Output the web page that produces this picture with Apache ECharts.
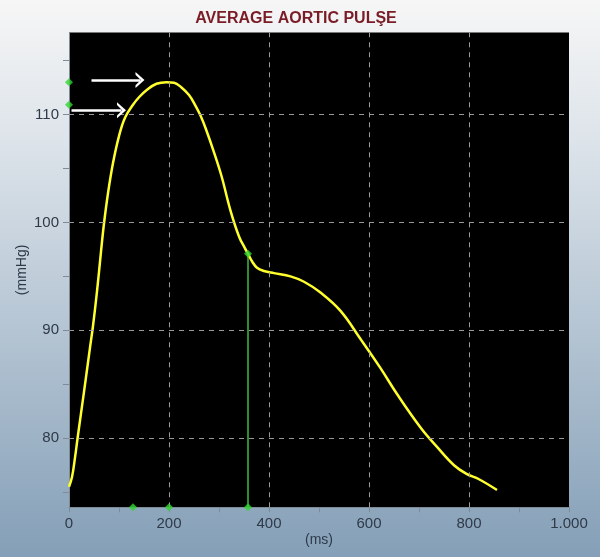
<!DOCTYPE html>
<html>
<head>
<meta charset="utf-8">
<script src="https://cdn.jsdelivr.net/npm/echarts@6/dist/echarts.min.js"></script>
<style>
html,body{margin:0;padding:0;}
#chart{width:600px;height:557px;}
</style>
</head>
<body>
<div id="chart"></div>
<script>
// ---- data ----
const timeMs = [0, 6, 12, 18, 30, 42, 48, 56, 64, 70, 78, 88, 100, 112, 128, 140, 156, 175, 195, 210, 225, 240, 252, 263, 275, 290, 305, 323, 340, 352, 358, 366, 376, 390, 410, 443, 470, 503, 543, 583, 623, 656, 703, 736, 770, 795, 820, 856];
const pressure = [75.5, 76.4, 78.2, 80.3, 84.3, 88.4, 90.4, 93.6, 97.3, 99.9, 102.7, 105.5, 108.0, 109.7, 110.9, 111.6, 112.3, 112.85, 113.0, 112.95, 112.5, 111.8, 110.9, 109.9, 108.5, 106.5, 104.3, 101.1, 98.7, 97.6, 97.1, 96.4, 95.8, 95.5, 95.3, 95.0, 94.5, 93.5, 91.8, 89.2, 86.5, 84.1, 81.0, 79.2, 77.5, 76.7, 76.2, 75.2];

const xTickValues = [0, 200, 400, 600, 800, 1000];
const yLabelValues = [80, 90, 100, 110];
const yTickValues = [75, 80, 85, 90, 95, 100, 105, 110, 115];

const timeMarkers = [128, 200, 358];          // green markers on the time axis
const pressureMarkers = [113.0, 110.9];       // green markers on the pressure axis
const dicroticPoint = [358, 97.1];            // notch marker with vertical drop line
const arrowLevels = [113.2, 110.4];           // white arrows (pressure level)
const arrowStarts = [45, 5];
const arrowEnds = [142, 105];

const Y_MIN = 73.6, Y_MAX = 117.6;

const curve = timeMs.map((t, i) => [t, pressure[i]]);
const markers = [
  ...pressureMarkers.map(v => [0, v]),
  ...timeMarkers.map(t => [t, Y_MIN]),
  dicroticPoint
];

const gridDash = {type: [5, 5], color: '#9a9a9a', width: 1};
const chevron = 'path://M0,12 L10,0 L20,12 L16.5,12 L10,5 L3.5,12 Z';

const chart = echarts.init(document.getElementById('chart'), null, {renderer: 'canvas'});
chart.setOption({
  animation: false,
  backgroundColor: {
    type: 'linear', x: 0, y: 0, x2: 0, y2: 1,
    colorStops: [
      {offset: 0, color: '#f6f6f6'},
      {offset: 0.25, color: '#dde4ea'},
      {offset: 1, color: '#849fb7'}
    ]
  },
  title: {
    text: 'AVERAGE AORTIC PULŞE',
    left: 291, top: 6, textAlign: 'center',
    textStyle: {fontFamily: 'Liberation Sans', fontWeight: 'bold', fontSize: 16, color: '#7a1c26'}
  },
  grid: {
    left: 69, right: 31, top: 32.5, bottom: 49.7,
    show: true, backgroundColor: '#000000', borderWidth: 0
  },
  xAxis: {
    type: 'value', min: 0, max: 1000, interval: 200,
    name: '(ms)', nameLocation: 'middle', nameGap: 26, nameMoveOverlap: false,
    nameTextStyle: {fontFamily: 'Liberation Sans', fontSize: 14, color: '#2f3a48'},
    axisLine: {show: true, lineStyle: {color: '#7f8c98'}},
    axisTick: {show: true, length: 5, lineStyle: {color: '#7f8c98'}},
    minorTick: {show: true, splitNumber: 2, length: 5, lineStyle: {color: '#7f8c98'}},
    axisLabel: {
      margin: 9, fontFamily: 'Liberation Sans', fontSize: 15, color: '#2f3a48',
      formatter: v => v === 1000 ? '1.000' : String(v)
    },
    splitLine: {show: false}
  },
  yAxis: {
    type: 'value', min: Y_MIN, max: Y_MAX,
    name: '(mmHg)', nameLocation: 'middle', nameGap: 40, nameRotate: 90, nameMoveOverlap: false,
    nameTextStyle: {fontFamily: 'Liberation Sans', fontSize: 14, color: '#2f3a48'},
    axisLine: {show: true, lineStyle: {color: '#7f8c98'}},
    axisTick: {show: true, length: 6, customValues: yTickValues, lineStyle: {color: '#7f8c98'}},
    axisLabel: {
      margin: 10, fontFamily: 'Liberation Sans', fontSize: 15, color: '#2f3a48',
      customValues: yLabelValues
    },
    splitLine: {show: false}
  },
  series: [
    {
      type: 'line', name: 'grid', data: [], silent: true,
      markLine: {
        silent: true, symbol: 'none', label: {show: false},
        lineStyle: gridDash, animation: false,
        data: [
          ...yLabelValues.map(v => ({yAxis: v})),
          ...xTickValues.slice(1, -1).map(v => ({xAxis: v}))
        ]
      }
    },
    {
      type: 'line', name: 'drop', data: [dicroticPoint, [dicroticPoint[0], Y_MIN]],
      symbol: 'none', lineStyle: {color: '#3bb03b', width: 1.6}, z: 3
    },
    {
      type: 'line', name: 'pulse', data: curve, smooth: 0.4,
      symbol: 'none', lineStyle: {color: '#ffff2e', width: 2.5}, z: 4
    },
    {
      type: 'line', name: 'arrows', data: [], silent: true, z: 5,
      markLine: {
        silent: true, symbol: ['none', chevron], symbolSize: [16, 9],
        label: {show: false}, animation: false,
        lineStyle: {type: 'solid', color: '#ffffff', width: 2.5},
        itemStyle: {color: '#ffffff'},
        data: arrowLevels.map((lv, i) => [
          {coord: [arrowStarts[i], lv]},
          {coord: [arrowEnds[i], lv]}
        ])
      }
    },
    {
      type: 'scatter', name: 'markers', data: markers, clip: false,
      symbol: 'diamond', symbolSize: 8,
      itemStyle: {color: '#31d431'}, z: 6
    }
  ]
});
</script>
</body>
</html>
